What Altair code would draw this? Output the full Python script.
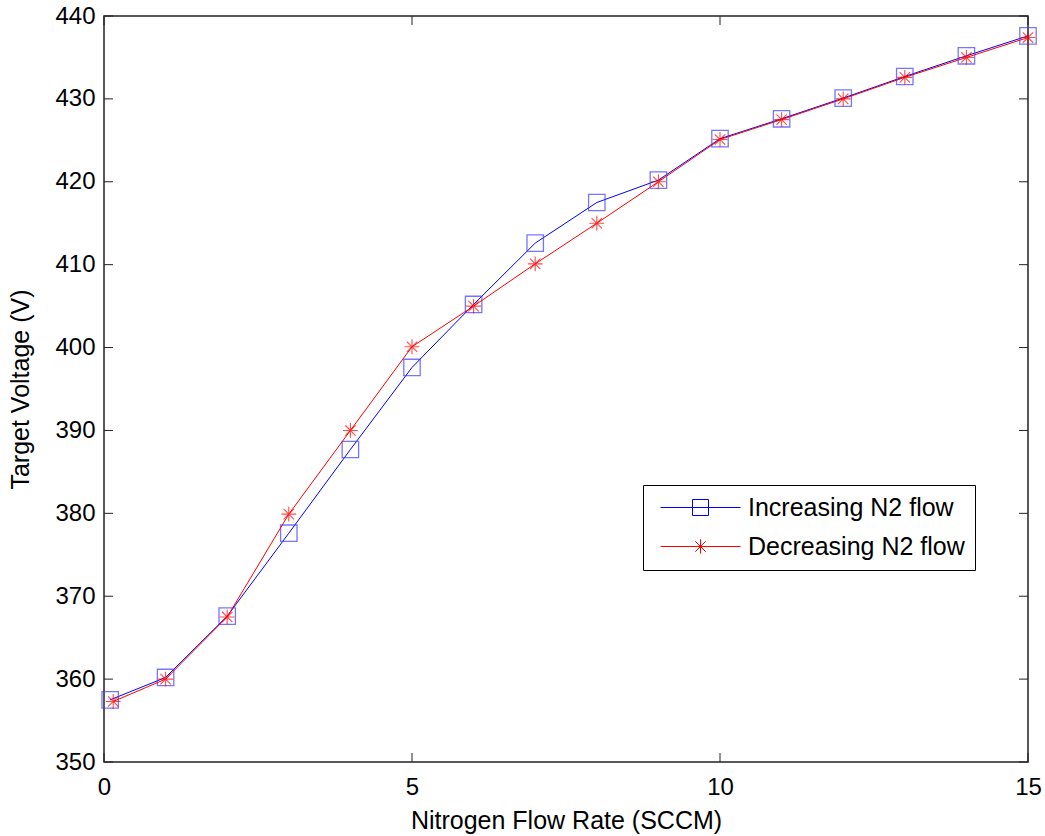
import altair as alt
import pandas as pd

# ---- data ----
series_names = ["Increasing N2 flow", "Decreasing N2 flow"]
x_inc = [0.1, 1, 2, 3, 4, 5, 6, 7, 8, 9, 10, 11, 12, 13, 14, 15]
v_inc = [357.5, 360.2, 367.6, 377.6, 387.7, 397.6, 405.2, 412.6, 417.5, 420.2,
         425.2, 427.6, 430.1, 432.7, 435.2, 437.6]
x_dec = [0.15, 1, 2, 3, 4, 5, 6, 7, 8, 9, 10, 11, 12, 13, 14, 15]
v_dec = [357.3, 360.0, 367.5, 379.9, 390.0, 400.1, 405.0, 410.1, 415.0, 420.0,
         425.1, 427.5, 430.0, 432.6, 435.0, 437.4]
x_ticks = [0, 5, 10, 15]
y_ticks = [350, 360, 370, 380, 390, 400, 410, 420, 430, 440]

W, H = 924, 746
FONT = "Liberation Sans"

df = pd.concat([
    pd.DataFrame({"series": series_names[0], "x": x_inc, "v": v_inc, "order": range(len(x_inc))}),
    pd.DataFrame({"series": series_names[1], "x": x_dec, "v": v_dec, "order": range(len(x_dec))}),
])
xt = pd.DataFrame({"t": x_ticks})
yt = pd.DataFrame({"t": y_ticks})

xscale = alt.Scale(domain=[0, 15], nice=False, zero=False)
yscale = alt.Scale(domain=[350, 440], nice=False, zero=False)

X = alt.X("x:Q", scale=xscale, title="Nitrogen Flow Rate (SCCM)",
          axis=alt.Axis(values=x_ticks, format="d", domain=False, ticks=False, tickSize=0,
                        grid=False, labelPadding=13, titlePadding=9, labelFlush=False))
Y = alt.Y("v:Q", scale=yscale, title="Target Voltage (V)",
          axis=alt.Axis(values=y_ticks, format="d", domain=False, ticks=False, tickSize=0,
                        grid=False, labelPadding=9, titlePadding=21, labelFlush=False))

star_path = "M-1,0H1M0,-1V1M-0.7,-0.7L0.7,0.7M-0.7,0.7L0.7,-0.7"
leg_sq = "M-5,0H5M-1,-1H1V1H-1Z"
leg_star = "M-5,0H5M-0.9,0H0.9M0,-0.9V0.9M-0.65,-0.65L0.65,0.65M-0.65,0.65L0.65,-0.65"

def make_legend():
    return alt.Legend(
        title=None, orient="none", legendX=539, legendY=469,
        labelFont=FONT, labelFontSize=25, labelColor="black", labelLimit=500,
        symbolSize=256, symbolStrokeWidth=1, symbolOffset=35, labelOffset=35,
        symbolOpacity=1, symbolFillColor="transparent",
        rowPadding=13, padding=10, strokeColor="black", fillColor="white",
    )

line_inc = alt.Chart(df).transform_filter(alt.datum.series == series_names[0]).mark_line(
    strokeWidth=1, color="#0000ff").encode(x=X, y=Y, order="order:Q")
line_dec = alt.Chart(df).transform_filter(alt.datum.series == series_names[1]).mark_line(
    strokeWidth=1, color="#ff0000").encode(x=alt.X("x:Q", scale=xscale), y=alt.Y("v:Q", scale=yscale),
                                          order="order:Q")

legend_layer = alt.Chart(df).mark_point(filled=False, opacity=0).encode(
    x=alt.X("x:Q", scale=xscale), y=alt.Y("v:Q", scale=yscale),
    color=alt.Color("series:N", scale=alt.Scale(domain=series_names, range=["#0000ff", "#ff0000"]),
                    legend=make_legend()),
    shape=alt.Shape("series:N", scale=alt.Scale(domain=series_names, range=[leg_sq, leg_star]),
                    legend=make_legend()),
)

squares = alt.Chart(df).transform_filter(alt.datum.series == series_names[0]).mark_point(
    shape="square", size=270, filled=False, strokeWidth=1.3, color="#3c3cff"
).encode(x=alt.X("x:Q", scale=xscale), y=alt.Y("v:Q", scale=yscale))

stars = alt.Chart(df).transform_filter(alt.datum.series == series_names[1]).mark_point(
    shape=star_path, size=220, filled=False, strokeWidth=1.1, color="#ff0000"
).encode(x=alt.X("x:Q", scale=xscale), y=alt.Y("v:Q", scale=yscale))

TK = 9
tick_color = "#222222"
bottom_ticks = alt.Chart(xt).mark_rule(color=tick_color, strokeWidth=1).encode(
    x=alt.X("t:Q", scale=xscale), y=alt.value(H), y2=alt.value(H - TK))
top_ticks = alt.Chart(xt).mark_rule(color=tick_color, strokeWidth=1).encode(
    x=alt.X("t:Q", scale=xscale), y=alt.value(0), y2=alt.value(TK))
left_ticks = alt.Chart(yt).mark_rule(color=tick_color, strokeWidth=1).encode(
    y=alt.Y("t:Q", scale=yscale), x=alt.value(0), x2=alt.value(TK))
right_ticks = alt.Chart(yt).mark_rule(color=tick_color, strokeWidth=1).encode(
    y=alt.Y("t:Q", scale=yscale), x=alt.value(W), x2=alt.value(W - TK))

chart = alt.layer(
    line_inc, bottom_ticks, top_ticks, left_ticks, right_ticks,
    squares, line_dec, stars, legend_layer,
).properties(
    width=W, height=H,
    autosize=alt.AutoSizeParams(type="none"),
    padding={"left": 104, "top": 16, "right": 17, "bottom": 74},
    background="white",
).configure_view(
    stroke="#222222", strokeWidth=1.5
).configure_axis(
    labelFont=FONT, labelFontSize=24, labelColor="black",
    titleFont=FONT, titleFontSize=25, titleFontWeight="normal", titleColor="black",
)

chart.save("out.html", embed_options={"renderer": "svg", "actions": False})
